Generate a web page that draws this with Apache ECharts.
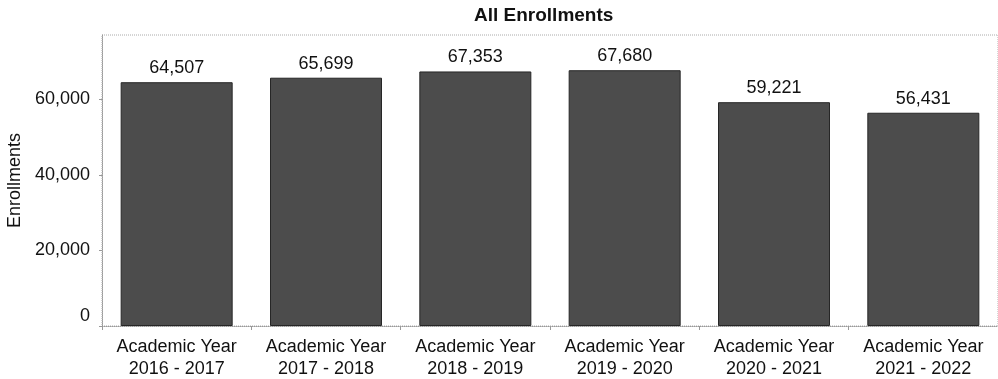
<!DOCTYPE html>
<html>
<head>
<meta charset="utf-8">
<script src="https://cdn.jsdelivr.net/npm/echarts@6/dist/echarts.min.js"></script>
<style>
html,body{margin:0;padding:0;background:#fff;}
#chart{width:998px;height:379px;}
</style>
</head>
<body>
<div id="chart"></div>
<script>
const categories = ["Academic Year\n2016 - 2017","Academic Year\n2017 - 2018","Academic Year\n2018 - 2019","Academic Year\n2019 - 2020","Academic Year\n2020 - 2021","Academic Year\n2021 - 2022"];
const enrollments = [64507, 65699, 67353, 67680, 59221, 56431];
const yTicks = [0, 20000, 40000, 60000];

const chart = echarts.init(document.getElementById('chart'));
const font = 'Liberation Sans, Arial, sans-serif';
chart.setOption({
  animation: false,
  backgroundColor: '#fff',
  title: {
    text: 'All Enrollments',
    left: 469, top: 1,
    textStyle: {fontFamily: font, fontSize: 19, fontWeight: 'bold', color: '#111'}
  },
  grid: {
    left: 102, right: 0, top: 35, bottom: 53,
    show: true, borderColor: '#aaa', borderWidth: 1, borderType: 'dotted',
    containLabel: false,
    outerBoundsMode: 'none'
  },
  xAxis: {
    type: 'category',
    data: categories,
    axisLine: {lineStyle: {color: '#999', type: 'dotted'}},
    axisTick: {show: true, length: 4, lineStyle: {color: '#999'}},
    axisLabel: {fontFamily: font, fontSize: 18, color: '#111', margin: 10, lineHeight: 22, interval: 0}
  },
  yAxis: {
    type: 'value',
    min: 0, max: 77000, interval: 20000,
    name: 'Enrollments',
    nameLocation: 'middle',
    nameGap: 73,
    nameTextStyle: {fontFamily: font, fontSize: 18, color: '#111'},
    axisLine: {show: true, lineStyle: {color: '#999', type: 'dotted'}},
    axisTick: {show: true, length: 3, lineStyle: {color: '#999'}},
    splitLine: {show: false},
    axisLabel: {
      fontFamily: font, fontSize: 18, color: '#111', margin: 12, showMaxLabel: false,
      formatter: v => v === 0 ? '{z|0}' : (yTicks.includes(v) ? v.toLocaleString('en-US') : ''),
      rich: {z: {fontFamily: font, fontSize: 18, color: '#111', padding: [0, 0, 20, 0]}}
    }
  },
  series: [{
    type: 'bar',
    data: enrollments,
    barWidth: '75%',
    itemStyle: {color: '#4c4c4c', borderColor: '#262626', borderWidth: 1},
    label: {
      show: true, position: 'top', distance: 5,
      fontFamily: font, fontSize: 18, color: '#111',
      formatter: p => p.value.toLocaleString('en-US')
    }
  }]
});
</script>
</body>
</html>
